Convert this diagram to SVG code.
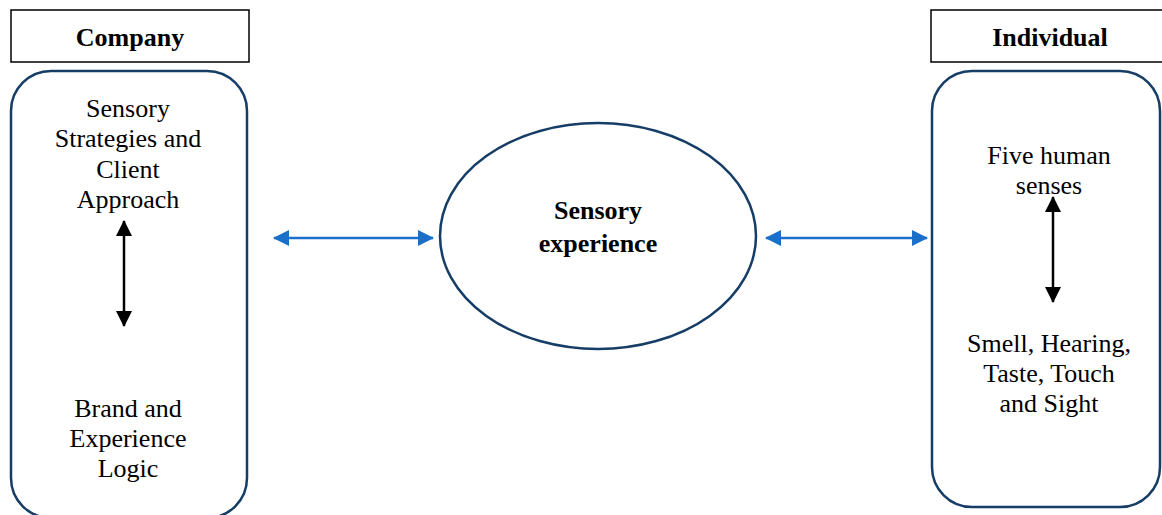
<svg xmlns="http://www.w3.org/2000/svg" width="1162" height="515" viewBox="0 0 1162 515">
<style>
.lbl{font-family:"Liberation Serif","Times New Roman",serif;font-size:26px;fill:#000;text-anchor:middle}
.b{font-weight:bold}
.hdr{fill:#fff;stroke:#000;stroke-width:1.5}
.pan{fill:#fff;stroke:#163d66;stroke-width:2.5}
.blue{stroke:#1a70c8;stroke-width:2.5;fill:none}
.blk{stroke:#000;stroke-width:2.5;fill:none}
</style>
<defs>
<marker id="hb" markerUnits="userSpaceOnUse" viewBox="0 0 16 16" refX="15" refY="8" markerWidth="16" markerHeight="16" orient="auto-start-reverse"><path d="M0,0 L16,8 L0,16 Z" fill="#1a70c8"/></marker>
<marker id="hk" markerUnits="userSpaceOnUse" viewBox="0 0 16 16" refX="15" refY="8" markerWidth="16" markerHeight="16" orient="auto-start-reverse"><path d="M0,0 L16,8 L0,16 Z" fill="#000"/></marker>
</defs>
<rect width="1162" height="515" fill="#fff"/>
<g id="company-header">
<rect class="hdr" x="11" y="10" width="238" height="52"/>
<text class="lbl b" x="130" y="46">Company</text>
</g>
<g id="individual-header">
<rect class="hdr" x="931" y="10" width="240" height="52"/>
<text class="lbl b" x="1050" y="46">Individual</text>
</g>
<g id="company-panel">
<rect class="pan" x="11" y="71" width="236" height="447" rx="40" ry="40"/>
<text class="lbl" x="128" y="117">Sensory</text>
<text class="lbl" x="128" y="147">Strategies and</text>
<text class="lbl" x="128" y="178">Client</text>
<text class="lbl" x="128" y="208">Approach</text>
<text class="lbl" x="128" y="417">Brand and</text>
<text class="lbl" x="128" y="447">Experience</text>
<text class="lbl" x="128" y="477">Logic</text>
</g>
<g id="sensory-experience">
<ellipse class="pan" cx="598" cy="236" rx="158" ry="113"/>
<text class="lbl b" x="598" y="219">Sensory</text>
<text class="lbl b" x="598" y="252">experience</text>
</g>
<g id="individual-panel">
<rect class="pan" x="932" y="71" width="228" height="436" rx="40" ry="40"/>
<text class="lbl" x="1049" y="164">Five human</text>
<text class="lbl" x="1049" y="194">senses</text>
<text class="lbl" x="1049" y="352">Smell, Hearing,</text>
<text class="lbl" x="1049" y="382">Taste, Touch</text>
<text class="lbl" x="1049" y="412">and Sight</text>
</g>
<g id="connectors">
<line class="blue" x1="274" y1="238" x2="433" y2="238" marker-start="url(#hb)" marker-end="url(#hb)"/>
<line class="blue" x1="766" y1="238" x2="927" y2="238" marker-start="url(#hb)" marker-end="url(#hb)"/>
<line class="blk" x1="124" y1="221" x2="124" y2="326" marker-start="url(#hk)" marker-end="url(#hk)"/>
<line class="blk" x1="1053" y1="197" x2="1053" y2="302" marker-start="url(#hk)" marker-end="url(#hk)"/>
</g>
</svg>
